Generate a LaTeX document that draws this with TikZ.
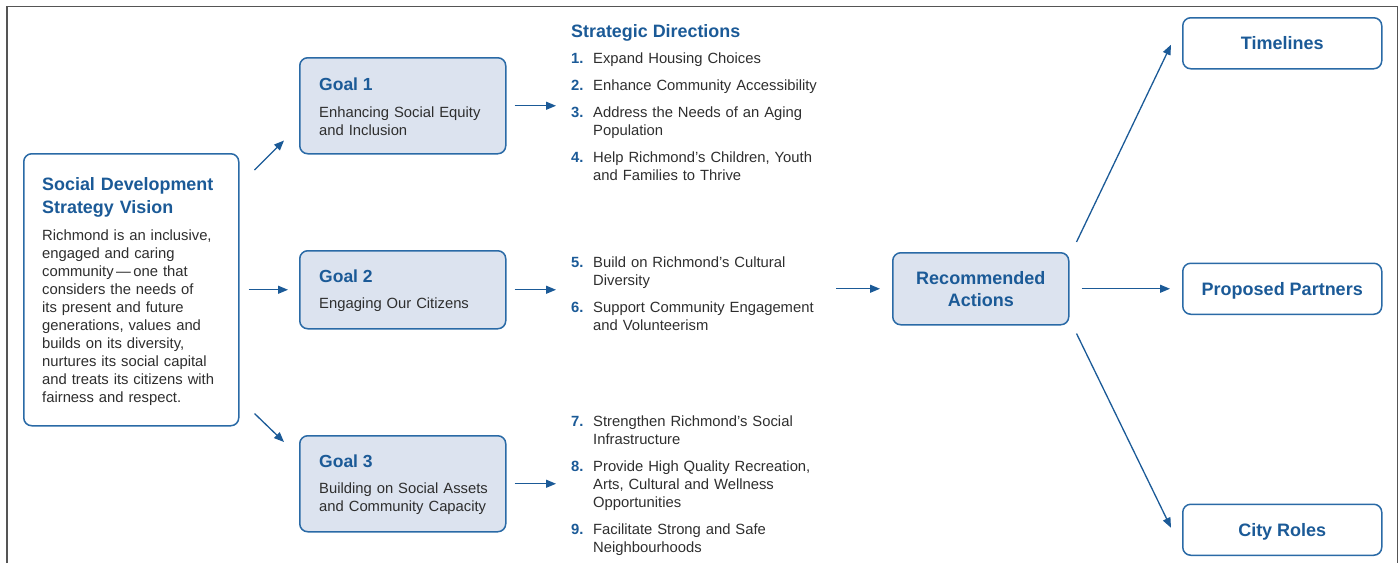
\documentclass[tikz,border=0pt]{standalone}
\usepackage{fontspec}
\setmainfont{Liberation Sans}
\usetikzlibrary{positioning,arrows.meta}

\definecolor{sdblue}{HTML}{1B5A97}
\definecolor{boxline}{HTML}{2A6AA6}
\definecolor{goalfill}{HTML}{DCE3EF}
\definecolor{bodygray}{HTML}{2E2E2E}
\definecolor{framegray}{HTML}{555555}

\newcommand{\dnum}[1]{\makebox[22pt][l]{\textcolor{sdblue}{\bfseries #1.}}}
\newcommand{\dind}{\hspace*{22pt}}

\begin{document}
\begin{tikzpicture}[x=1pt, y=-1pt,
    box/.style = {draw=boxline, line width=1.5pt, rounded corners=8pt, inner sep=0pt},
    goal/.style = {box, fill=goalfill, minimum width=206pt, minimum height=96pt},
    outcome/.style = {box, fill=white, minimum width=199pt, minimum height=51pt, text height=13pt, text depth=0pt, text=sdblue, font=\fontsize{18}{22}\selectfont\bfseries},
    head/.style = {text=sdblue, inner sep=0pt, anchor=base west, font=\fontsize{17.5}{23}\selectfont\bfseries},
    body/.style = {text=bodygray, inner sep=0pt, anchor=base west, align=left, font=\fontsize{14.8}{18}\selectfont},
    arr/.style = {draw=sdblue, line width=1.3pt, -{Triangle[length=10pt, width=8pt]}}]
    \useasboundingbox (0,0) rectangle (1400,563);
    \draw[framegray, line width=1.5pt] (7,563) -- (7,6.5) -- (1397.5,6.5) -- (1397.5,563);

    % vision
    \node[box, fill=white, minimum width=215pt, minimum height=272pt, anchor=north west] (vision) at (23,153) {};
    \node[head, font=\fontsize{17.9}{23}\selectfont\bfseries, text width=185pt, align=left] (visionhead) at ([shift={(19,37)}]vision.north west) {Social Development\\Strategy Vision};
    \node[body, text width=185pt] (visiontext) at ([shift={(19,87)}]vision.north west) {Richmond is an inclusive,\\engaged and caring\\community\,—\,one that\\considers the needs of\\its present and future\\generations, values and\\builds on its diversity,\\nurtures its social capital\\and treats its citizens with\\fairness and respect.};

    % goals
    \node[goal, anchor=north west] (g1) at (299,57) {};
    \node[goal, below=95.5pt of g1, minimum height=78pt] (g2) {};
    \node[goal, below=105.5pt of g2] (g3) {};
    \node[head] (g1head) at ([shift={(20,33)}]g1.north west) {Goal 1};
    \node[body, text width=180pt] (g1text) at ([shift={(20,60)}]g1.north west) {Enhancing Social Equity\\and Inclusion};
    \node[head] (g2head) at ([shift={(20,32)}]g2.north west) {Goal 2};
    \node[body, text width=180pt] (g2text) at ([shift={(20,58)}]g2.north west) {Engaging Our Citizens};
    \node[head] (g3head) at ([shift={(20,32)}]g3.north west) {Goal 3};
    \node[body, text width=180pt] (g3text) at ([shift={(20,58)}]g3.north west) {Building on Social Assets\\and Community Capacity};

    % strategic directions
    \node[head, font=\fontsize{17.9}{23}\selectfont\bfseries] (sdhead) at (571,37) {Strategic Directions};
    \node[body, text width=260pt] (dirA) at (571,63) {\dnum{1}Expand Housing Choices\\[9pt]
        \dnum{2}Enhance Community Accessibility\\[9pt]
        \dnum{3}Address the Needs of an Aging\\ \dind Population\\[9pt]
        \dnum{4}Help Richmond’s Children, Youth\\ \dind and Families to Thrive};
    \node[body, text width=260pt] (dirB) at (571,267) {\dnum{5}Build on Richmond’s Cultural\\ \dind Diversity\\[9pt]
        \dnum{6}Support Community Engagement\\ \dind and Volunteerism};
    \node[body, text width=260pt] (dirC) at (571,426) {\dnum{7}Strengthen Richmond’s Social\\ \dind Infrastructure\\[9pt]
        \dnum{8}Provide High Quality Recreation,\\ \dind Arts, Cultural and Wellness\\ \dind Opportunities\\[9pt]
        \dnum{9}Facilitate Strong and Safe\\ \dind Neighbourhoods};

    % actions and outcomes
    \node[box, fill=goalfill, minimum width=176pt, minimum height=72pt, align=center, text=sdblue, font=\fontsize{18}{22}\selectfont\bfseries, anchor=north west] (ra) at (892,252) {Recommended\\Actions};
    \node[outcome, anchor=north west] (time) at (1182,17) {Timelines};
    \node[outcome, below=193pt of time] (part) {Proposed Partners};
    \node[outcome, below=188.5pt of part] (city) {City Roles};

    \draw[arr] ([shift={(15,17)}]vision.north east) -- ([shift={(-15,-14)}]g1.south west);
    \draw[arr, shorten <=9pt, shorten >=11pt] (vision.east) -- (g2.west);
    \draw[arr] ([shift={(15,-13)}]vision.south east) -- ([shift={(-15,7)}]g3.north west);
    \draw[arr, shorten <=8pt, shorten >=15pt] (g1.east) -- (g1.east -| dirA.west);
    \draw[arr, shorten <=8pt, shorten >=15pt] (g2.east) -- (g2.east -| dirB.west);
    \draw[arr, shorten <=8pt, shorten >=15pt] (g3.east) -- (g3.east -| dirC.west);
    \draw[arr, shorten <=5pt, shorten >=12pt] (dirB.east |- ra.west) -- (ra.west);
    \draw[arr] ([shift={(7,-10)}]ra.north east) -- ([shift={(-11,1.5)}]time.west);
    \draw[arr, shorten <=12pt, shorten >=12pt] (ra.east) -- (part.west);
    \draw[arr] ([shift={(7,8)}]ra.south east) -- ([shift={(-11,-2)}]city.west);
\end{tikzpicture}
\end{document}
